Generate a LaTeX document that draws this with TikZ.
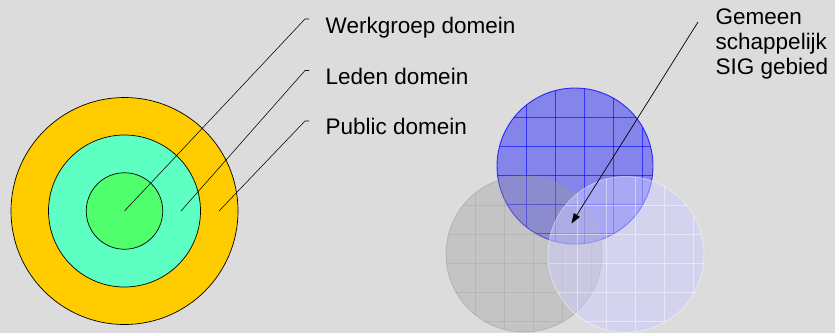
\documentclass[tikz,border=0pt]{standalone}
\usepackage{fontspec}
\setmainfont{Liberation Sans}
\usetikzlibrary{arrows.meta}
\definecolor{bg}{HTML}{DCDCDC}
\definecolor{ringyellow}{HTML}{FFCC00}
\definecolor{ringaqua}{HTML}{5EFFC2}
\definecolor{ringgreen}{HTML}{50FF6E}
\definecolor{sigblue}{HTML}{0000FF}
\definecolor{siggray}{HTML}{999999}
\definecolor{siglav}{HTML}{CCCCFF}
\tikzset{
  ring/.style={circle, draw=black, line width=0.7pt, inner sep=0pt},
  leader/.style={draw=black, line width=0.55pt},
  lbl/.style={anchor=base west, inner sep=0pt, font=\fontsize{22.5}{25}\selectfont},
  pointer/.style={draw=black, line width=0.7pt, -{Triangle[length=10pt,width=7pt]}},
}
\begin{document}
\begin{tikzpicture}[x=1pt,y=-1pt]
\fill[bg] (0,0) rectangle (835,333);
\useasboundingbox (0,0) rectangle (835,333);

% concentric domains
\node[ring, fill=ringyellow, minimum size=227pt] (outer) at (124.5,211) {};
\node[ring, fill=ringaqua, minimum size=152pt] (middle) at (124.5,211) {};
\node[ring, fill=ringgreen, minimum size=76.5pt] (inner) at (124.5,211) {};

\coordinate (pw) at (124.5,211);
\coordinate (pl) at (181,211);
\coordinate (pp) at (219,211);
\coordinate (kw) at (305,19);
\coordinate (kl) at (305,70.5);
\coordinate (kp) at (305,121);
\coordinate (ew) at (309,19);
\coordinate (el) at (309,70.5);
\coordinate (ep) at (309,121);
\draw[leader] (pw) -- (kw) -- (ew);
\draw[leader] (pl) -- (kl) -- (el);
\draw[leader] (pp) -- (kp) -- (ep);

\node[lbl] (tw) at (325.5,33.3) {Werkgroep domein};
\node[lbl] (tl) at (325.5,84.3) {Leden domein};
\node[lbl] (tp) at (325.5,134.5) {Public domein};

% overlapping SIG circles
% blue
\fill[sigblue, fill opacity=0.4] (575,166) circle (78);
\begin{scope}
\clip (575,166) circle (78);
\foreach \k in {1,...,5} {
  \draw[sigblue, draw opacity=0.6, line width=0.8pt] (497+29*\k,80) -- (497+29*\k,250);
  \draw[sigblue, draw opacity=0.6, line width=0.8pt] (490,88+29*\k) -- (660,88+29*\k);
}
\end{scope}
\draw[draw=sigblue, draw opacity=0.75, line width=0.9pt] (575,166) circle (78);
\node[circle, minimum size=156pt, inner sep=0pt] (cblue) at (575,166) {};

% gray
\fill[siggray, fill opacity=0.35] (524,254) circle (78);
\begin{scope}
\clip (524,254) circle (78);
\foreach \k in {1,...,5} {
  \draw[siggray, draw opacity=0.3, line width=0.8pt] (446+29*\k,170) -- (446+29*\k,340);
  \draw[siggray, draw opacity=0.3, line width=0.8pt] (440,176+29*\k) -- (610,176+29*\k);
}
\end{scope}
\draw[draw=siggray, draw opacity=0.45, line width=0.9pt] (524,254) circle (78);
\node[circle, minimum size=156pt, inner sep=0pt] (cgray) at (524,254) {};

% lavender
\fill[siglav, fill opacity=0.5] (626,254.5) circle (78);
\begin{scope}
\clip (626,254.5) circle (78);
\foreach \k in {1,...,5} {
  \draw[white, draw opacity=0.45, line width=0.8pt] (548+29*\k,170) -- (548+29*\k,340);
  \draw[white, draw opacity=0.45, line width=0.8pt] (540,176.5+29*\k) -- (710,176.5+29*\k);
}
\end{scope}
\draw[draw=white, draw opacity=0.4, line width=0.9pt] (626,254.5) circle (78);
\node[circle, minimum size=156pt, inner sep=0pt] (clav) at (626,254.5) {};

\coordinate (astart) at (698,22);
\coordinate (atip) at (571.5,223.5);
\draw[pointer] (astart) -- (atip);

\node[lbl] (g1) at (715.5,24) {Gemeen};
\node[lbl] (g2) at (715.5,49.3) {schappelijk};
\node[lbl] (g3) at (715.5,74) {SIG gebied};
\end{tikzpicture}
\end{document}
